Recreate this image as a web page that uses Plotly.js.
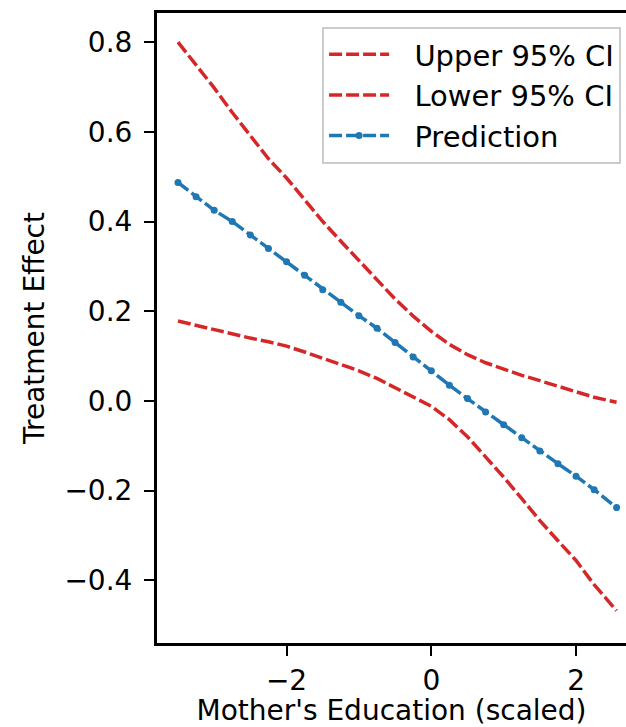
<!DOCTYPE html>
<html><head><meta charset="utf-8">
<script src="https://cdn.plot.ly/plotly-3.0.1.min.js"></script>
<style>html,body{margin:0;padding:0;background:#fff;overflow:hidden;}</style>
</head><body><div id="chart" style="width:626px;height:727px;"></div>
<script>
const xVals = [-3.5, -3.25, -3.0, -2.75, -2.5, -2.25, -2.0, -1.75, -1.5, -1.25, -1.0, -0.75, -0.5, -0.25, 0, 0.25, 0.5, 0.75, 1.0, 1.25, 1.5, 1.75, 2.0, 2.25, 2.56];
const upperCI = [0.800, 0.750, 0.698, 0.643, 0.590, 0.540, 0.497, 0.447, 0.400, 0.356, 0.313, 0.269, 0.227, 0.189, 0.155, 0.126, 0.103, 0.085, 0.070, 0.057, 0.045, 0.032, 0.019, 0.008, -0.003];
const lowerCI = [0.178, 0.168, 0.158, 0.150, 0.140, 0.132, 0.122, 0.109, 0.095, 0.082, 0.067, 0.050, 0.030, 0.010, -0.012, -0.042, -0.080, -0.125, -0.170, -0.218, -0.267, -0.312, -0.356, -0.410, -0.468];
const prediction = [0.487, 0.455, 0.425, 0.400, 0.370, 0.340, 0.310, 0.280, 0.248, 0.220, 0.190, 0.162, 0.130, 0.098, 0.067, 0.035, 0.005, -0.025, -0.053, -0.082, -0.112, -0.140, -0.168, -0.198, -0.238];
const seriesNames = ["Upper 95% CI", "Lower 95% CI", "Prediction"];
const xTicks = [-2, 0, 2];
const yTicks = [-0.4, -0.2, 0.0, 0.2, 0.4, 0.6, 0.8];

const red = "#d62728", blue = "#1f77b4";
const font = "DejaVu Sans, sans-serif";
const fs = 28, lfs = 29;
const pad = "\u2002\u2009";
const traces = [
  {x: xVals, y: upperCI, name: pad + seriesNames[0], mode: "lines", line: {color: red, width: 3.5, dash: "13px,4px"}},
  {x: xVals, y: lowerCI, name: pad + seriesNames[1], mode: "lines", line: {color: red, width: 3.5, dash: "13px,4px"}},
  {x: xVals, y: prediction, name: pad + seriesNames[2], mode: "lines+markers", line: {color: blue, width: 3.5, dash: "13px,4px"}, marker: {color: blue, size: 7}}
];
const layout = {
  width: 626, height: 727,
  margin: {l: 157, r: 0, t: 13, b: 84},
  paper_bgcolor: "#fff", plot_bgcolor: "#fff",
  font: {family: font, size: fs, color: "#000"},
  showlegend: true,
  legend: {x: 0.352, y: 0.978, xanchor: "left", yanchor: "top", bordercolor: "#cccccc", borderwidth: 2, bgcolor: "#fff", itemwidth: 60, font: {family: font, size: lfs, color: "#000"}, tracegroupgap: 0},
  xaxis: {range: [-3.79, 2.69], tickvals: xTicks, ticktext: xTicks.map(v => v < 0 ? "\u2212" + Math.abs(v) : String(v)), showgrid: false, zeroline: false, showline: true, linecolor: "#000", linewidth: 3, mirror: true, ticks: "outside", ticklen: 10, tickwidth: 2, tickcolor: "#000",
    title: {text: "Mother's Education (scaled)", font: {family: font, size: fs, color: "#000"}, standoff: 8}},
  yaxis: {range: [-0.54, 0.865], tickvals: yTicks, ticktext: yTicks.map(v => v < 0 ? "\u2212" + Math.abs(v).toFixed(1) : v.toFixed(1)), showgrid: false, zeroline: false, showline: true, linecolor: "#000", linewidth: 3, mirror: false, ticks: "outside", ticklen: 10, tickwidth: 2, tickcolor: "#000", ticklabelstandoff: 6,
    title: {text: "Treatment Effect", font: {family: font, size: fs, color: "#000"}, standoff: 12}}
};
Plotly.newPlot("chart", traces, layout, {displayModeBar: false, staticPlot: true});
</script></body></html>
